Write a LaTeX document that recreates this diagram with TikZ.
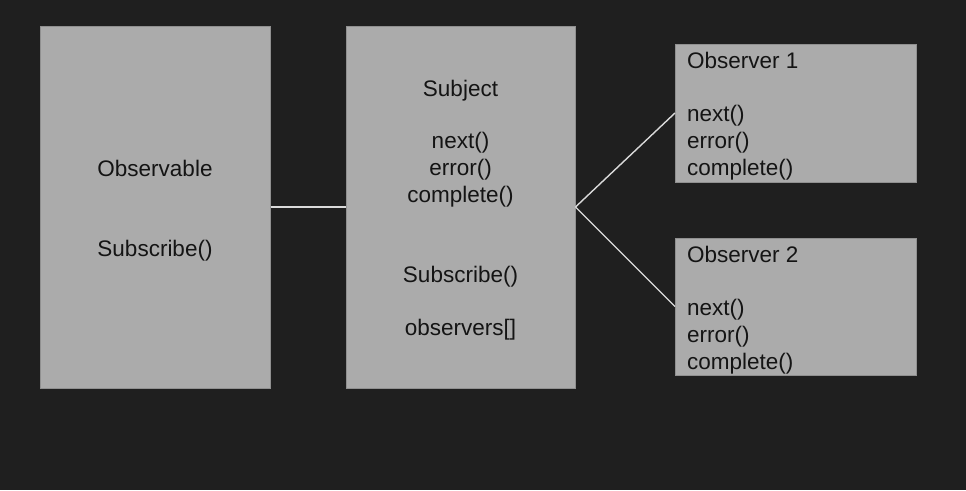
\documentclass[tikz,border=0pt]{standalone}
\usepackage{fontspec}
\setmainfont{Liberation Sans}
\definecolor{bg}{HTML}{1F1F1F}
\definecolor{boxfill}{HTML}{ABABAB}
\definecolor{boxedge}{HTML}{909090}
\definecolor{wire}{HTML}{DADADA}
\definecolor{ink}{HTML}{141414}
\begin{document}
\begin{tikzpicture}[x=1pt,y=-1pt,
  panel/.style={draw=boxedge,fill=boxfill,line width=1pt,inner sep=0pt},
  label/.style={anchor=base,inner sep=0pt,text=ink,font=\fontsize{22.5}{27}\selectfont},
  llabel/.style={label,anchor=base west},
  wireline/.style={draw=wire,line width=1.4pt}]
\fill[bg] (0,0) rectangle (966,490);
\useasboundingbox (0,0) rectangle (966,490);
% boxes
\node[panel,minimum width=230pt,minimum height=362pt] (obs) at (155,207) {};
\node[panel,minimum width=229pt,minimum height=362pt] (subj) at (460.5,207) {};
\node[panel,minimum width=241pt,minimum height=138pt] (o1) at (796,113) {};
\node[panel,minimum width=241pt,minimum height=137pt] (o2) at (796,306.5) {};
% connectors
\draw[wireline] (obs.east) -- (subj.west);
\draw[wireline] (subj.east) -- (o1.west);
\draw[wireline] (subj.east) -- (o2.west);
% Observable texts
\node[label] (obsT) at (155,176) {Observable};
\node[label] (obsS) at (155,256) {Subscribe()};
% Subject texts
\node[label] (sT) at (460.5,96) {Subject};
\node[label] (sN) at (460.5,148) {next()};
\node[label] (sE) at (460.5,175) {error()};
\node[label] (sC) at (460.5,202) {complete()};
\node[label] (sS) at (460.5,282) {Subscribe()};
\node[label] (sO) at (460.5,335) {observers[]};
% Observer 1
\node[llabel] (aT) at (687,68) {Observer 1};
\node[llabel] (aN) at (687,121) {next()};
\node[llabel] (aE) at (687,148) {error()};
\node[llabel] (aC) at (687,175) {complete()};
% Observer 2
\node[llabel] (bT) at (687,262) {Observer 2};
\node[llabel] (bN) at (687,315) {next()};
\node[llabel] (bE) at (687,342) {error()};
\node[llabel] (bC) at (687,369) {complete()};
\end{tikzpicture}
\end{document}
